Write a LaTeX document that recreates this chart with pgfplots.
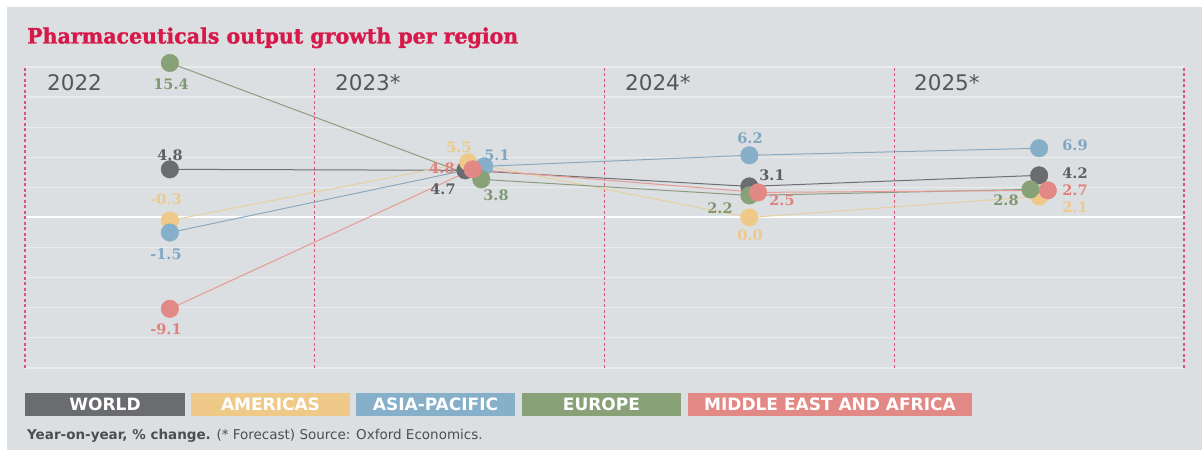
\documentclass[border=0pt]{standalone}
\usepackage{fontspec}
\setmainfont{DejaVu Sans}
\newfontfamily\slab{DejaVu Serif}
\newfontfamily\titlefont{DejaVu Serif}[BoldFeatures={FakeBold=1.5}]
\usepackage{graphicx}
\usepackage{pgfplots}
\pgfplotsset{compat=1.18}
\usepackage{pgfplotstable}

\definecolor{bg}{HTML}{DCDFE1}
\definecolor{gridc}{HTML}{E9EBEC}
\definecolor{vline}{HTML}{D8557A}
\definecolor{titlec}{HTML}{D7194A}
\definecolor{yr}{HTML}{555659}
\definecolor{foot}{HTML}{4D4E50}
\definecolor{cWorld}{HTML}{6B6C70}
\definecolor{cAm}{HTML}{EEC988}
\definecolor{cAs}{HTML}{86AFC9}
\definecolor{cEu}{HTML}{88A177}
\definecolor{cMe}{HTML}{E38985}
\definecolor{lWorld}{HTML}{6E6F73}
\definecolor{lAm}{HTML}{E8CF9F}
\definecolor{lAs}{HTML}{8AA9C0}
\definecolor{lEu}{HTML}{8C9C80}
\definecolor{lMe}{HTML}{E79A96}
\definecolor{tWorld}{HTML}{5D5E62}
\definecolor{tAm}{HTML}{EDC98C}
\definecolor{tAs}{HTML}{7FA7C2}
\definecolor{tEu}{HTML}{7F9872}
\definecolor{tMe}{HTML}{E0817D}

\pgfplotstableread{
x y
0 4.8
1.02 4.7
2 3.1
3 4.2
}\dWorld
\pgfplotstableread{
x y
0 -0.3
1.03 5.5
2 0.0
3 2.1
}\dAm
\pgfplotstableread{
x y
0 -1.5
1.085 5.1
2 6.2
3 6.9
}\dAs
\pgfplotstableread{
x y
0 15.4
1.075 3.8
2 2.2
2.97 2.8
}\dEu
\pgfplotstableread{
x y
0 -9.1
1.045 4.8
2.03 2.5
3.03 2.7
}\dMe

\newcommand{\val}[1]{\fontsize{14.5bp}{16bp}\selectfont\slab\bfseries #1}
\newcommand{\leg}[1]{\fontsize{17bp}{19bp}\selectfont\bfseries #1}

\begin{document}
\begin{tikzpicture}[x=1bp,y=1bp]
\fill[white] (-25,-82) rectangle (1177,368);
\fill[bg] (-18,-82) rectangle (1177,361);
\begin{axis}[at={(0,0)},anchor=south west,scale only axis,
  width=1159bp,height=301bp,
  xmin=-0.5,xmax=3.5,ymin=-15,ymax=15,
  axis lines=none,clip=false]
\pgfplotsinvokeforeach{-15,-12,...,15}{
  \draw[gridc,line width=1.2bp] (axis cs:-0.5,#1) -- (axis cs:3.5,#1);}
\draw[white,line width=2bp] (axis cs:-0.5,0) -- (axis cs:3.5,0);
\pgfplotsinvokeforeach{-0.5,0.5,1.5,2.5,3.5}{
  \draw[vline,line width=1.3bp,dash pattern=on 3bp off 2.5bp] (axis cs:#1,-15) -- (axis cs:#1,15);}
\addplot[lWorld,line width=1bp,no marks] table {\dWorld};
\addplot[lAm,line width=1bp,no marks] table {\dAm};
\addplot[lAs,line width=1bp,no marks] table {\dAs};
\addplot[lEu,line width=1bp,no marks] table {\dEu};
\addplot[lMe,line width=1bp,no marks] table {\dMe};
\addplot[cWorld,only marks,mark=*,mark size=8.8bp] table {\dWorld};
\addplot[cAm,only marks,mark=*,mark size=8.8bp] table {\dAm};
\addplot[cAs,only marks,mark=*,mark size=8.8bp] table {\dAs};
\addplot[cEu,only marks,mark=*,mark size=8.8bp] table {\dEu};
\addplot[cMe,only marks,mark=*,mark size=8.8bp] table {\dMe};
\end{axis}
% title
\node[anchor=base west,inner sep=0,text=titlec] at (2,324.5)
  {\resizebox{491bp}{16bp}{\titlefont\bfseries Pharmaceuticals output growth per region}};
% year labels
\foreach \xx/\tt in {22/2022,310/2023*,600/2024*,889/2025*}
  \node[anchor=west,inner sep=0,text=yr] at (\xx,285) {\fontsize{21.5bp}{24bp}\selectfont \tt};
% value labels 2022
\node[text=tEu] at (146,284) {\val{15.4}};
\node[text=tWorld] at (145,213) {\val{4.8}};
\node[text=tAm] at (141,169) {\val{-0.3}};
\node[text=tAs] at (141,114) {\val{-1.5}};
\node[text=tMe] at (141,39) {\val{-9.1}};
% 2023
\node[text=tAm] at (434,221) {\val{5.5}};
\node[text=tAs] at (472,213) {\val{5.1}};
\node[text=tMe] at (417,200) {\val{4.8}};
\node[text=tWorld] at (418,179) {\val{4.7}};
\node[text=tEu] at (471,173) {\val{3.8}};
% 2024
\node[text=tAs] at (725,230) {\val{6.2}};
\node[text=tWorld] at (747,193) {\val{3.1}};
\node[text=tMe] at (757,168) {\val{2.5}};
\node[text=tEu] at (695,160) {\val{2.2}};
\node[text=tAm] at (725,133) {\val{0.0}};
% 2025
\node[text=tAs] at (1050,223) {\val{6.9}};
\node[text=tWorld] at (1050,195) {\val{4.2}};
\node[text=tMe] at (1050,178) {\val{2.7}};
\node[text=tEu] at (981,168) {\val{2.8}};
\node[text=tAm] at (1050,161) {\val{2.1}};
% legend
\fill[cWorld] (0,-48) rectangle (160,-25);
\node[text=white] at (80,-36.5) {\leg{WORLD}};
\fill[cAm] (166,-48) rectangle (325,-25);
\node[text=white] at (245.5,-36.5) {\leg{AMERICAS}};
\fill[cAs] (331,-48) rectangle (490,-25);
\node[text=white] at (410.5,-36.5) {\leg{ASIA-PACIFIC}};
\fill[cEu] (497,-48) rectangle (656,-25);
\node[text=white] at (576.5,-36.5) {\leg{EUROPE}};
\fill[cMe] (663,-48) rectangle (947,-25);
\node[text=white] at (805,-36.5) {\leg{MIDDLE EAST AND AFRICA}};
% footnote
\node[anchor=west,inner sep=0,text=foot] at (2,-68)
  {\fontsize{13.5bp}{15bp}\selectfont\textbf{Year-on-year, \% change.} (* Forecast) Source: Oxford Economics.};
\end{tikzpicture}
\end{document}
